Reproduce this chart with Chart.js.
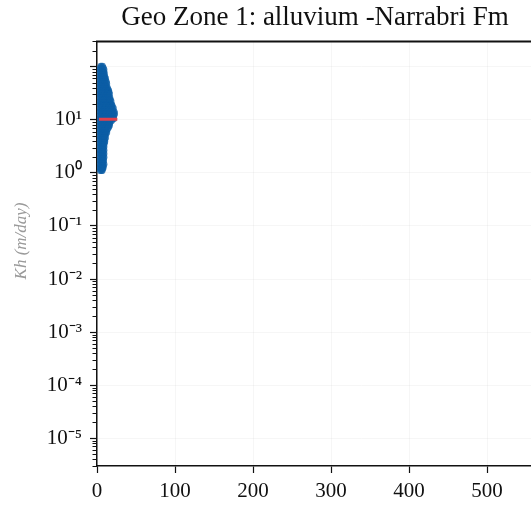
<!DOCTYPE html>
<html><head><meta charset="utf-8">
<script src="https://cdn.jsdelivr.net/npm/chart.js@4/dist/chart.umd.min.js"></script>
<style>html,body{margin:0;padding:0;background:#fff;overflow:hidden;width:531px;height:507px}canvas{display:block}</style>
</head><body>
<canvas id="c" width="630" height="507"></canvas>
<script>
const chartTitle = 'Geo Zone 1: alluvium -Narrabri Fm';
const yAxisTitle = '      Kh (m/day)';
const xTickValues = [0, 100, 200, 300, 400, 500];
const yTickExponents = [-5, -4, -3, -2, -1, 0, 1];
const yTickLabels = ['10⁻⁵', '10⁻⁴', '10⁻³', '10⁻²', '10⁻¹', '10⁰', '10¹'];

// Kh (m/day) levels and the depths at which samples sit at each level
const khLevels = [103, 95, 88, 80, 76, 70, 65, 60, 56, 52, 48, 44, 41, 38, 35.5, 33, 30.5, 28, 26, 24,
  22.5, 21, 19.3, 18, 16.6, 15.4, 14.3, 13.2, 12.3, 11.4, 10.5, 9.7, 9.05, 8.4, 7.77, 7.2, 6.67, 6.2,
  5.73, 5.3, 4.92, 4.55, 4.23, 3.9, 3.63, 3.35, 3.12, 2.9, 2.68, 2.48, 2.3, 2.13, 1.98, 1.83, 1.7,
  1.57, 1.46, 1.35, 1.25, 1.17, 1.1];
const depthAtLevel = [
  [5, 7], [4.5, 8], [4, 6.5, 9], [5, 8.5], [4, 7, 9.5], [5.5, 9], [4, 6, 8, 10], [5, 9, 11],
  [4, 7, 10.5], [5.5, 8.5, 12], [4, 6.5, 10, 12.5], [5, 8, 11], [4, 7, 10, 13], [5.5, 9, 12, 14],
  [4, 7.5, 11, 15], [5, 8.5, 13, 15.5], [4, 6.5, 10, 13.5, 16], [5, 9, 12, 15], [4, 7, 11, 14, 16.5],
  [5.5, 9.5, 13, 17], [4, 7.5, 11.5, 15, 18], [5, 9, 13, 16.5], [4, 6.5, 10.5, 14, 17.5, 19],
  [5.5, 8.5, 12, 16, 19.5], [4, 7, 11, 14.5, 18, 21], [5, 9, 13, 17, 20], [4, 6.5, 10, 14, 18, 22],
  [5.5, 8, 12, 16, 20, 22.5], [4, 7, 10.5, 15, 19, 22], [5, 9, 13, 17.5, 21], [4, 6.5, 11, 14.5, 18, 21.5],
  [5.5, 8.5, 12.5, 16, 19], [4, 7, 10.5, 14, 17], [5, 9, 12.5, 16], [4, 6.5, 10, 14, 16],
  [5.5, 8.5, 12, 15], [4, 7, 10, 13.5], [5, 9, 12], [4, 6.5, 10, 12.5], [5.5, 8, 11], [4, 7, 10],
  [5, 8.5, 11], [4, 6.5, 9.5], [5.5, 8, 10], [4, 7, 9.5], [5, 8.5], [4, 6.5, 9], [5.5, 8], [4, 7, 9],
  [5, 8], [4, 6.5, 9], [5.5, 8], [4, 7, 9], [5, 8], [4, 6.5, 8.5], [5.5, 7.5], [4, 7, 9], [5, 8],
  [4, 6.5, 8], [5, 7], [4.5, 6.5]
];
const meanDepth = [2.5, 26];
const meanKh = [10.2, 10.2];

const points = [];
khLevels.forEach((k, i) => depthAtLevel[i].forEach(d => points.push({x: d, y: k})));
const meanPts = meanDepth.map((d, i) => ({x: d, y: meanKh[i]}));

function isMajor(v) {
  const l = Math.log10(v);
  return Math.abs(l - Math.round(l)) < 1e-6;
}

const framePlugin = {
  id: 'frame',
  afterDraw(chart) {
    const {ctx, chartArea: a} = chart;
    const y = chart.scales.y;
    ctx.save();
    ctx.strokeStyle = '#111';
    ctx.lineWidth = 2;
    ctx.beginPath(); ctx.moveTo(a.left - 1, a.top); ctx.lineTo(a.right, a.top); ctx.stroke();
    ctx.lineWidth = 1;
    y.ticks.forEach(t => {
      if (!isMajor(t.value)) {
        const py = Math.round(y.getPixelForValue(t.value)) + 0.5;
        ctx.beginPath(); ctx.moveTo(a.left - 4.5, py); ctx.lineTo(a.left, py); ctx.stroke();
      }
    });
    ctx.restore();
  }
};

new Chart(document.getElementById('c'), {
  type: 'scatter',
  data: {
    datasets: [
      {type: 'line', data: meanPts, borderColor: '#e0404c', borderWidth: 3, pointRadius: 0, fill: false},
      {type: 'scatter', data: points, pointRadius: 3.4, backgroundColor: 'rgba(12,93,165,0.78)', borderWidth: 0}
    ]
  },
  options: {
    responsive: false,
    animation: false,
    layout: {padding: {left: 0, right: 0, top: 0, bottom: 0}},
    plugins: {
      legend: {display: false},
      tooltip: {enabled: false},
      title: {display: true, text: chartTitle, color: '#111',
        font: {family: 'Liberation Serif', size: 27, weight: 'normal'}, padding: {top: 2, bottom: 7}}
    },
    scales: {
      x: {
        type: 'linear', min: 0, max: 678,
        afterBuildTicks(scale) { scale.ticks = xTickValues.map(v => ({value: v})); },
        afterFit(scale) { scale.height = 41; },
        ticks: {autoSkip: false, maxRotation: 0, padding: 6, color: '#111',
          font: {family: 'Liberation Serif', size: 21}, callback: v => String(v)},
        grid: {color: 'rgba(0,0,0,0.035)', tickLength: 7, tickColor: '#111', tickWidth: 1.2},
        border: {color: '#111', width: 1.5}
      },
      y: {
        type: 'logarithmic', min: 3e-6, max: 300,
        afterBuildTicks(scale) {
          const t = [];
          for (let e = -6; e <= 2; e++) for (let m = 1; m <= 9; m++) {
            const v = m * Math.pow(10, e);
            if (v >= 3e-6 * 0.999 && v <= 300 * 1.001) t.push({value: v});
          }
          scale.ticks = t;
        },
        afterFit(scale) { scale.width = 97; },
        ticks: {autoSkip: false, padding: 8, color: '#111',
          font: {family: 'Liberation Serif', size: 21},
          callback(v) {
            if (!isMajor(v)) return '';
            const i = yTickExponents.indexOf(Math.round(Math.log10(v)));
            return i >= 0 ? yTickLabels[i] : '';
          }},
        grid: {
          tickLength: 7, tickWidth: 1.2,
          color: c => (c.tick && isMajor(c.tick.value)) ? 'rgba(0,0,0,0.035)' : 'rgba(0,0,0,0)',
          tickColor: c => (c.tick && isMajor(c.tick.value)) ? '#111' : 'rgba(0,0,0,0)'
        },
        border: {color: '#111', width: 1.5},
        title: {display: true, text: yAxisTitle, color: '#9a9a9a',
          font: {family: 'Liberation Serif', size: 17, style: 'italic'}, padding: {top: 11, bottom: 0}}
      }
    }
  },
  plugins: [framePlugin]
});
</script>
</body></html>
